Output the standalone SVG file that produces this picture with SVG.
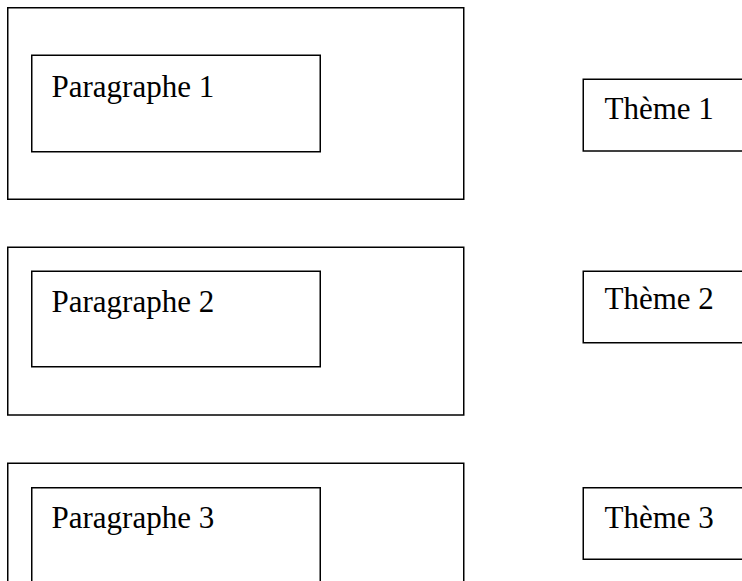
<svg xmlns="http://www.w3.org/2000/svg" width="742" height="581" viewBox="0 0 742 581">
<style>
.box{fill:none;stroke:#000;stroke-width:1.5}
.t{font-family:"Liberation Serif","Times New Roman",serif;font-size:31px;fill:#000}
</style>
<rect width="742" height="581" fill="#fff"/>
<g id="section1">
<rect class="box" x="7.75" y="7.75" width="456" height="191.5"/>
</g>
<g id="paragraphe1">
<rect class="box" x="31.75" y="55.25" width="288.5" height="96.5"/>
<text class="t" x="51.5" y="96.5">Paragraphe 1</text>
</g>
<g id="theme1">
<rect class="box" x="583.25" y="79.25" width="170" height="71.75"/>
<text class="t" x="604.5" y="118.5">Thème 1</text>
</g>
<g id="section2">
<rect class="box" x="7.75" y="247.25" width="456" height="167.75"/>
</g>
<g id="paragraphe2">
<rect class="box" x="31.75" y="271.25" width="288.5" height="95.5"/>
<text class="t" x="51.5" y="312">Paragraphe 2</text>
</g>
<g id="theme2">
<rect class="box" x="583.25" y="271.25" width="170" height="71.5"/>
<text class="t" x="604.5" y="308.5">Thème 2</text>
</g>
<g id="section3">
<rect class="box" x="7.75" y="463.25" width="456" height="140"/>
</g>
<g id="paragraphe3">
<rect class="box" x="31.75" y="487.75" width="288.5" height="120"/>
<text class="t" x="51.5" y="528">Paragraphe 3</text>
</g>
<g id="theme3">
<rect class="box" x="583.25" y="487.75" width="170" height="71.5"/>
<text class="t" x="604.5" y="527.5">Thème 3</text>
</g>
<g id="connectors"></g>
</svg>
